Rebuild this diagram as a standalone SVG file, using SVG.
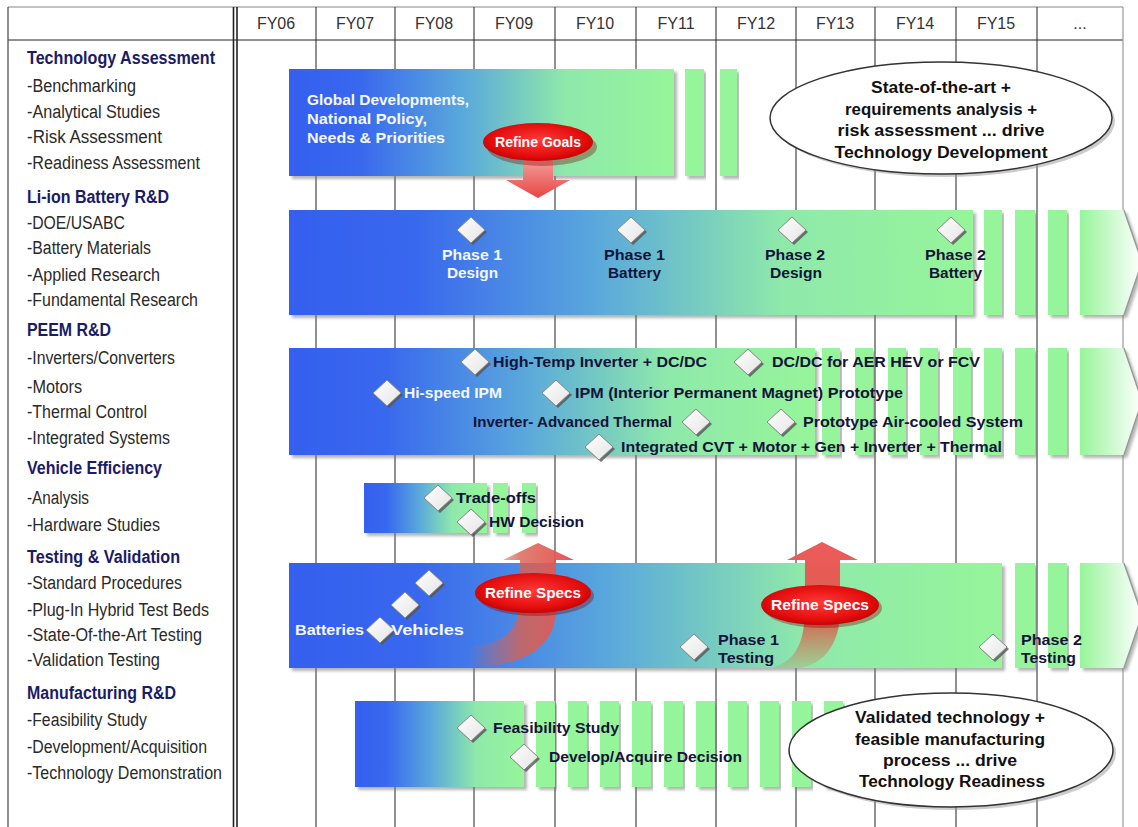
<svg xmlns="http://www.w3.org/2000/svg" xmlns:xlink="http://www.w3.org/1999/xlink" width="1138" height="827" viewBox="0 0 1138 827">
<defs>
<style>
text{font-family:"Liberation Sans",Arial,sans-serif}
.hd{font-weight:bold;font-size:18px;fill:#1b1b66}
.it{font-size:18px;fill:#2a2a2a}
.fy{font-size:16px;fill:#333;text-anchor:middle}
.ms{font-weight:bold;font-size:15px;fill:#14143a}
.w{fill:#f4f8ff}
.rs{font-weight:bold;font-size:15px;fill:#fff;text-anchor:middle}
.co{font-weight:bold;font-size:16px;fill:#111;text-anchor:middle}
.grid{stroke:#222;stroke-width:1}
.bar{fill:url(#bg);filter:url(#sh)}
.strip{fill:#96f59a;filter:url(#sh)}
.tip{fill:url(#tg);filter:url(#sh)}
.tipl{fill:none;stroke:#999;stroke-width:1.5}
</style>
<linearGradient id="bg" x1="0" x2="1" y1="0" y2="0">
<stop offset="0" stop-color="#3560ef"/>
<stop offset="0.18" stop-color="#3867ee"/>
<stop offset="0.45" stop-color="#5aa8dc"/>
<stop offset="0.72" stop-color="#8ee9aa"/>
<stop offset="1" stop-color="#96f59a"/>
</linearGradient>
<linearGradient id="tg" x1="0" x2="1" y1="0" y2="0">
<stop offset="0" stop-color="#96f59a"/>
<stop offset="1" stop-color="#ffffff"/>
</linearGradient>
<radialGradient id="rg" cx="0.5" cy="0.45" r="0.6">
<stop offset="0" stop-color="#ff3a3a"/>
<stop offset="0.7" stop-color="#e40d0d"/>
<stop offset="1" stop-color="#b80000"/>
</radialGradient>
<linearGradient id="ag" x1="0" x2="0" y1="0" y2="1">
<stop offset="0" stop-color="#f6b4ac"/>
<stop offset="1" stop-color="#e84545"/>
</linearGradient>
<linearGradient id="ug" x1="0" x2="0" y1="0" y2="1">
<stop offset="0" stop-color="#ee5a5a"/>
<stop offset="0.6" stop-color="#d9604e"/>
<stop offset="1" stop-color="#d07050" stop-opacity="0.2"/>
</linearGradient>
<linearGradient id="ug1" x1="0" x2="1" y1="0" y2="0">
<stop offset="0" stop-color="#d86050" stop-opacity="0"/>
<stop offset="0.5" stop-color="#d86050" stop-opacity="0.8"/>
<stop offset="1" stop-color="#e85555"/>
</linearGradient>
<linearGradient id="dg" x1="0" x2="1" y1="0" y2="1">
<stop offset="0" stop-color="#ffffff"/>
<stop offset="1" stop-color="#e4e4e4"/>
</linearGradient>
<filter id="sh" x="-5%" y="-5%" width="115%" height="125%">
<feDropShadow dx="3" dy="3" stdDeviation="1.5" flood-color="#777" flood-opacity="0.55"/>
</filter>
<g id="dia">
<polygon points="2,-11 16,2 2,15 -12,2" fill="#555" opacity="0.8"/>
<polygon points="0,-13 14,0 0,13 -14,0" fill="url(#dg)" stroke="#888" stroke-width="1"/>
</g>
</defs>
<rect x="0" y="0" width="1138" height="827" fill="#fff"/>

<g id="grid">
<line x1="8" y1="7" x2="1123" y2="7" stroke="#888" stroke-width="1.2"/>
<line x1="8" y1="40" x2="1123" y2="40" class="grid"/>
<line x1="8" y1="7" x2="8" y2="827" stroke="#444" stroke-width="1.2"/>
<line x1="1123" y1="7" x2="1123" y2="827" stroke="#999" stroke-width="1.2"/>
<line x1="233.5" y1="7" x2="233.5" y2="827" stroke="#222" stroke-width="1.6"/>
<line x1="237" y1="7" x2="237" y2="827" stroke="#222" stroke-width="1.6"/>
<line x1="316" y1="7" x2="316" y2="827" class="grid"/>
<line x1="395" y1="7" x2="395" y2="827" class="grid"/>
<line x1="474" y1="7" x2="474" y2="827" class="grid"/>
<line x1="555" y1="7" x2="555" y2="827" class="grid"/>
<line x1="636" y1="7" x2="636" y2="827" class="grid"/>
<line x1="716" y1="7" x2="716" y2="827" class="grid"/>
<line x1="796" y1="7" x2="796" y2="827" class="grid"/>
<line x1="875" y1="7" x2="875" y2="827" class="grid"/>
<line x1="956" y1="7" x2="956" y2="827" class="grid"/>
<line x1="1037" y1="7" x2="1037" y2="827" class="grid"/>
</g>

<g id="header">
<text class="fy" x="276" y="29">FY06</text>
<text class="fy" x="355" y="29">FY07</text>
<text class="fy" x="434" y="29">FY08</text>
<text class="fy" x="514" y="29">FY09</text>
<text class="fy" x="595" y="29">FY10</text>
<text class="fy" x="676" y="29">FY11</text>
<text class="fy" x="756" y="29">FY12</text>
<text class="fy" x="835" y="29">FY13</text>
<text class="fy" x="915" y="29">FY14</text>
<text class="fy" x="996" y="29">FY15</text>
<text class="fy" x="1080" y="29">...</text>
</g>

<g id="categories">
<text class="hd" x="27" y="64" textLength="188" lengthAdjust="spacingAndGlyphs">Technology Assessment</text>
<text class="it" x="27" y="92" textLength="109" lengthAdjust="spacingAndGlyphs">-Benchmarking</text>
<text class="it" x="27" y="118" textLength="133" lengthAdjust="spacingAndGlyphs">-Analytical Studies</text>
<text class="it" x="27" y="143" textLength="135" lengthAdjust="spacingAndGlyphs">-Risk Assessment</text>
<text class="it" x="27" y="169" textLength="173" lengthAdjust="spacingAndGlyphs">-Readiness Assessment</text>
<text class="hd" x="27" y="203" textLength="142" lengthAdjust="spacingAndGlyphs">Li-ion Battery R&amp;D</text>
<text class="it" x="27" y="229" textLength="98" lengthAdjust="spacingAndGlyphs">-DOE/USABC</text>
<text class="it" x="27" y="254" textLength="124" lengthAdjust="spacingAndGlyphs">-Battery Materials</text>
<text class="it" x="27" y="281" textLength="133" lengthAdjust="spacingAndGlyphs">-Applied Research</text>
<text class="it" x="27" y="306" textLength="171" lengthAdjust="spacingAndGlyphs">-Fundamental Research</text>
<text class="hd" x="27" y="336" textLength="84" lengthAdjust="spacingAndGlyphs">PEEM R&amp;D</text>
<text class="it" x="27" y="364" textLength="148" lengthAdjust="spacingAndGlyphs">-Inverters/Converters</text>
<text class="it" x="27" y="393" textLength="55" lengthAdjust="spacingAndGlyphs">-Motors</text>
<text class="it" x="27" y="418" textLength="120" lengthAdjust="spacingAndGlyphs">-Thermal Control</text>
<text class="it" x="27" y="444" textLength="143" lengthAdjust="spacingAndGlyphs">-Integrated Systems</text>
<text class="hd" x="27" y="474" textLength="135" lengthAdjust="spacingAndGlyphs">Vehicle Efficiency</text>
<text class="it" x="27" y="504" textLength="62" lengthAdjust="spacingAndGlyphs">-Analysis</text>
<text class="it" x="27" y="531" textLength="133" lengthAdjust="spacingAndGlyphs">-Hardware Studies</text>
<text class="hd" x="27" y="563" textLength="153" lengthAdjust="spacingAndGlyphs">Testing &amp; Validation</text>
<text class="it" x="27" y="589" textLength="155" lengthAdjust="spacingAndGlyphs">-Standard Procedures</text>
<text class="it" x="27" y="616" textLength="182" lengthAdjust="spacingAndGlyphs">-Plug-In Hybrid Test Beds</text>
<text class="it" x="27" y="641" textLength="175" lengthAdjust="spacingAndGlyphs">-State-Of-the-Art Testing</text>
<text class="it" x="27" y="666" textLength="133" lengthAdjust="spacingAndGlyphs">-Validation Testing</text>
<text class="hd" x="27" y="699" textLength="149" lengthAdjust="spacingAndGlyphs">Manufacturing R&amp;D</text>
<text class="it" x="27" y="726" textLength="120" lengthAdjust="spacingAndGlyphs">-Feasibility Study</text>
<text class="it" x="27" y="753" textLength="180" lengthAdjust="spacingAndGlyphs">-Development/Acquisition</text>
<text class="it" x="27" y="779" textLength="195" lengthAdjust="spacingAndGlyphs">-Technology Demonstration</text>
</g>

<g id="bar-tech-assessment">
<rect class="bar" x="289" y="69" width="385" height="107"/>
<rect class="strip" x="685" y="69" width="19" height="107"/>
<rect class="strip" x="720" y="69" width="17" height="107"/>
<text class="ms w" x="307" y="105" textLength="162" lengthAdjust="spacingAndGlyphs">Global Developments,</text>
<text class="ms w" x="307" y="124" textLength="120" lengthAdjust="spacingAndGlyphs">National Policy,</text>
<text class="ms w" x="307" y="143" textLength="138" lengthAdjust="spacingAndGlyphs">Needs &amp; Priorities</text>
</g>

<g id="bar-li-ion">
<rect class="bar" x="289" y="210" width="684" height="105"/>
<rect class="strip" x="984" y="210" width="18" height="105"/>
<rect class="strip" x="1015" y="210" width="20" height="105"/>
<rect class="strip" x="1048" y="210" width="19" height="105"/>
<polygon class="tip" points="1080,210 1124,210 1142,262 1124,315 1080,315"/>
<polyline class="tipl" points="1124,210 1142,262 1124,315"/>
</g>

<g id="bar-peem">
<rect class="bar" x="289" y="348" width="526" height="107"/>
<rect class="strip" x="822" y="348" width="18" height="107"/>
<rect class="strip" x="855" y="348" width="18" height="107"/>
<rect class="strip" x="888" y="348" width="18" height="107"/>
<rect class="strip" x="920" y="348" width="18" height="107"/>
<rect class="strip" x="953" y="348" width="18" height="107"/>
<rect class="strip" x="984" y="348" width="18" height="107"/>
<rect class="strip" x="1015" y="348" width="20" height="107"/>
<rect class="strip" x="1048" y="348" width="19" height="107"/>
<polygon class="tip" points="1080,348 1124,348 1142,401 1124,455 1080,455"/>
<polyline class="tipl" points="1124,348 1142,401 1124,455"/>
</g>

<g id="bar-vehicle-eff">
<rect class="bar" x="364" y="483" width="123" height="50"/>
<rect class="strip" x="493" y="483" width="15" height="50"/>
<rect class="strip" x="522" y="483" width="14" height="50"/>
</g>

<g id="bar-testing">
<rect class="bar" x="289" y="563" width="713" height="105"/>
<rect class="strip" x="1015" y="563" width="20" height="105"/>
<rect class="strip" x="1048" y="563" width="19" height="105"/>
<polygon class="tip" points="1080,563 1124,563 1142,615 1124,668 1080,668"/>
<polyline class="tipl" points="1124,563 1142,615 1124,668"/>
</g>

<g id="bar-manufacturing">
<rect class="bar" x="355" y="701" width="169" height="86"/>
<rect class="strip" x="536" y="701" width="19" height="86"/>
<rect class="strip" x="568" y="701" width="19" height="86"/>
<rect class="strip" x="600" y="701" width="19" height="86"/>
<rect class="strip" x="632" y="701" width="19" height="86"/>
<rect class="strip" x="664" y="701" width="19" height="86"/>
<rect class="strip" x="696" y="701" width="19" height="86"/>
<rect class="strip" x="728" y="701" width="19" height="86"/>
<rect class="strip" x="760" y="701" width="19" height="86"/>
<rect class="strip" x="792" y="701" width="19" height="86"/>
<rect class="strip" x="824" y="701" width="19" height="86"/>
</g>

<g id="connectors">
<path d="M523,150 L523,180 L506,180 L538,198 L570,180 L553,180 L553,150 Z" fill="url(#ag)"/>
<path d="M468,646 C505,646 520,628 520,600 L520,560 L503,560 L538,543 L574,560 L556,560 L556,608 C556,650 520,667 468,667 Z" fill="url(#ug1)"/>
<path d="M772,668 C798,660 805,640 805,605 L805,560 L787,560 L822,542 L858,560 L840,560 L840,612 C840,645 822,665 800,668 Z" fill="url(#ug)"/>
</g>

<g id="refine-goals">
<ellipse cx="540" cy="144" rx="55" ry="19" fill="#700" opacity="0.35" transform="translate(2,3)"/>
<ellipse cx="538" cy="142" rx="55" ry="19" fill="url(#rg)"/>
<text class="rs" x="538" y="147" textLength="86" lengthAdjust="spacingAndGlyphs">Refine Goals</text>
</g>

<g id="refine-specs-1">
<ellipse cx="536" cy="596" rx="58" ry="20" fill="#700" opacity="0.35"/>
<ellipse cx="533" cy="593" rx="58" ry="20" fill="url(#rg)"/>
<text class="rs" x="533" y="598" textLength="96" lengthAdjust="spacingAndGlyphs">Refine Specs</text>
</g>

<g id="refine-specs-2">
<ellipse cx="823" cy="608" rx="59" ry="20" fill="#700" opacity="0.35"/>
<ellipse cx="820" cy="605" rx="59" ry="20" fill="url(#rg)"/>
<text class="rs" x="820" y="610" textLength="98" lengthAdjust="spacingAndGlyphs">Refine Specs</text>
</g>

<g id="ms-li-ion">
<use href="#dia" x="471" y="230"/>
<use href="#dia" x="631" y="230"/>
<use href="#dia" x="792" y="230"/>
<use href="#dia" x="951" y="230"/>
<text class="ms w" x="442" y="260" textLength="60" lengthAdjust="spacingAndGlyphs">Phase 1</text>
<text class="ms w" x="447" y="278" textLength="51" lengthAdjust="spacingAndGlyphs">Design</text>
<text class="ms" x="604" y="260" textLength="61" lengthAdjust="spacingAndGlyphs">Phase 1</text>
<text class="ms" x="608" y="278" textLength="53" lengthAdjust="spacingAndGlyphs">Battery</text>
<text class="ms" x="765" y="260" textLength="60" lengthAdjust="spacingAndGlyphs">Phase 2</text>
<text class="ms" x="770" y="278" textLength="52" lengthAdjust="spacingAndGlyphs">Design</text>
<text class="ms" x="925" y="260" textLength="61" lengthAdjust="spacingAndGlyphs">Phase 2</text>
<text class="ms" x="929" y="278" textLength="53" lengthAdjust="spacingAndGlyphs">Battery</text>
</g>

<g id="ms-peem">
<use href="#dia" x="475" y="362"/>
<use href="#dia" x="748" y="362"/>
<use href="#dia" x="387" y="393"/>
<use href="#dia" x="556" y="393"/>
<use href="#dia" x="696" y="422"/>
<use href="#dia" x="781" y="422"/>
<use href="#dia" x="599" y="447"/>
<text class="ms" x="493" y="367" textLength="214" lengthAdjust="spacingAndGlyphs">High-Temp Inverter + DC/DC</text>
<text class="ms" x="772" y="367" textLength="208" lengthAdjust="spacingAndGlyphs">DC/DC for AER HEV or FCV</text>
<text class="ms w" x="404" y="398" textLength="98" lengthAdjust="spacingAndGlyphs">Hi-speed IPM</text>
<text class="ms" x="575" y="398" textLength="328" lengthAdjust="spacingAndGlyphs">IPM (Interior Permanent Magnet) Prototype</text>
<text class="ms" x="473" y="427" textLength="199" lengthAdjust="spacingAndGlyphs">Inverter- Advanced Thermal</text>
<text class="ms" x="803" y="427" textLength="220" lengthAdjust="spacingAndGlyphs">Prototype Air-cooled System</text>
<text class="ms" x="621" y="452" textLength="381" lengthAdjust="spacingAndGlyphs">Integrated CVT + Motor + Gen + Inverter + Thermal</text>
</g>

<g id="ms-vehicle">
<use href="#dia" x="438" y="498"/>
<use href="#dia" x="471" y="522"/>
<text class="ms" x="456" y="503" textLength="80" lengthAdjust="spacingAndGlyphs">Trade-offs</text>
<text class="ms" x="489" y="527" textLength="95" lengthAdjust="spacingAndGlyphs">HW Decision</text>
</g>

<g id="ms-testing">
<use href="#dia" x="429" y="583"/>
<use href="#dia" x="405" y="605"/>
<use href="#dia" x="380" y="630"/>
<use href="#dia" x="694" y="647"/>
<use href="#dia" x="993" y="647"/>
<text class="ms w" x="295" y="635" textLength="69" lengthAdjust="spacingAndGlyphs">Batteries</text>
<text class="ms w" x="391" y="635" textLength="73" lengthAdjust="spacingAndGlyphs">Vehicles</text>
<text class="ms" x="718" y="645" textLength="61" lengthAdjust="spacingAndGlyphs">Phase 1</text>
<text class="ms" x="718" y="663" textLength="56" lengthAdjust="spacingAndGlyphs">Testing</text>
<text class="ms" x="1021" y="645" textLength="61" lengthAdjust="spacingAndGlyphs">Phase 2</text>
<text class="ms" x="1021" y="663" textLength="55" lengthAdjust="spacingAndGlyphs">Testing</text>
</g>

<g id="ms-manufacturing">
<use href="#dia" x="471" y="728"/>
<use href="#dia" x="524" y="757"/>
<text class="ms" x="493" y="733" textLength="126" lengthAdjust="spacingAndGlyphs">Feasibility Study</text>
<text class="ms" x="549" y="762" textLength="193" lengthAdjust="spacingAndGlyphs">Develop/Acquire Decision</text>
</g>

<g id="callout-top">
<ellipse cx="944" cy="121" rx="171" ry="56" fill="#999" opacity="0.5"/>
<ellipse cx="941" cy="118" rx="171" ry="56" fill="#fff" stroke="#333" stroke-width="1.5"/>
<text class="co" x="941" y="93" textLength="140" lengthAdjust="spacingAndGlyphs">State-of-the-art +</text>
<text class="co" x="941" y="115" textLength="192" lengthAdjust="spacingAndGlyphs">requirements analysis +</text>
<text class="co" x="941" y="136" textLength="207" lengthAdjust="spacingAndGlyphs">risk assessment ... drive</text>
<text class="co" x="941" y="158" textLength="213" lengthAdjust="spacingAndGlyphs">Technology Development</text>
</g>

<g id="callout-bottom">
<ellipse cx="954" cy="753" rx="162" ry="57" fill="#999" opacity="0.5"/>
<ellipse cx="951" cy="750" rx="162" ry="57" fill="#fff" stroke="#333" stroke-width="1.5"/>
<text class="co" x="950" y="723" textLength="190" lengthAdjust="spacingAndGlyphs">Validated technology +</text>
<text class="co" x="950" y="745" textLength="190" lengthAdjust="spacingAndGlyphs">feasible manufacturing</text>
<text class="co" x="950" y="766" textLength="134" lengthAdjust="spacingAndGlyphs">process ... drive</text>
<text class="co" x="952" y="787" textLength="186" lengthAdjust="spacingAndGlyphs">Technology Readiness</text>
</g>
</svg>
